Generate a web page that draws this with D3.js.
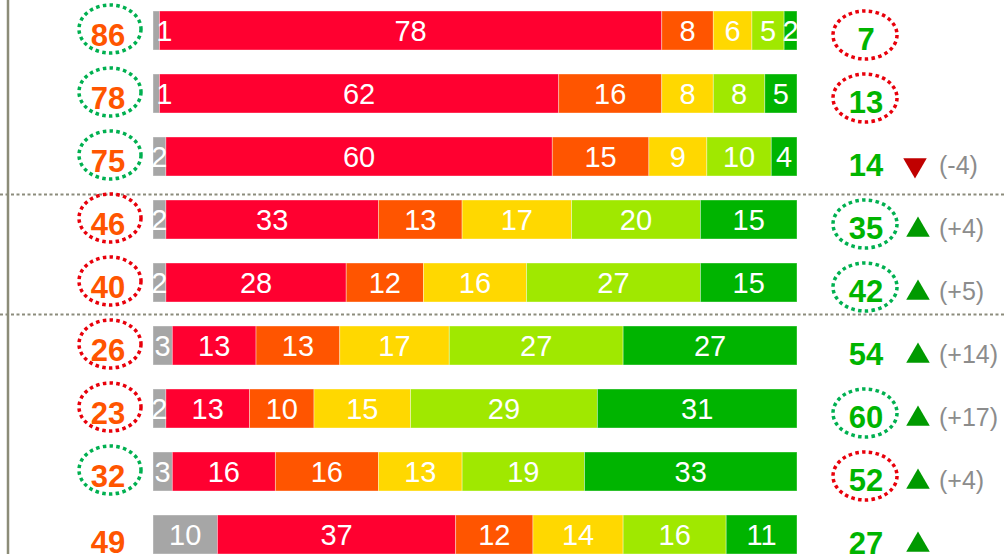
<!DOCTYPE html>
<html>
<head>
    <meta charset="utf-8">
    <script src="https://d3js.org/d3.v7.min.js"></script>
    <style>
        body { margin: 0; background: #fff; }
        svg { display: block; font-family: "Liberation Sans", Arial, sans-serif; }
    </style>
</head>
<body>
    <script>
        // rows top to bottom
        var rows = ["r1", "r2", "r3", "r4", "r5", "r6", "r7", "r8", "r9"];

        // stacked shares, one array per answer class
        var seriesKeys = ["na", "veryBad", "bad", "neutral", "good", "veryGood"];
        var na       = [1, 1, 2, 2, 2, 3, 2, 3, 10];
        var veryBad  = [78, 62, 60, 33, 28, 13, 13, 16, 37];
        var bad      = [8, 16, 15, 13, 12, 13, 10, 16, 12];
        var neutral  = [6, 8, 9, 17, 16, 17, 15, 13, 14];
        var good     = [5, 8, 10, 20, 27, 27, 29, 19, 16];
        var veryGood = [2, 5, 4, 15, 15, 27, 31, 33, 11];

        // side scores
        var leftScores  = [86, 78, 75, 46, 40, 26, 23, 32, 49];
        var leftRing    = ["green", "green", "green", "red", "red", "red", "red", "green", null];
        var rightScores = [7, 13, 14, 35, 42, 54, 60, 52, 27];
        var rightRing   = ["red", "red", null, "green", "green", null, "green", "red", null];
        var trend       = [null, null, "down", "up", "up", "up", "up", "up", "up"];
        var changeText  = [null, null, "(-4)", "(+4)", "(+5)", "(+14)", "(+17)", "(+4)", null];

        var colors = {
            na: "#A6A6A6", veryBad: "#FF0030", bad: "#FF5500",
            neutral: "#FFD800", good: "#A0E800", veryGood: "#00B400"
        };
        var ringColors = { green: "#00B050", red: "#E8000B" };

        var width = 1004, height = 554;

        var table = rows.map(function (r, i) {
            return {
                row: r, na: na[i], veryBad: veryBad[i], bad: bad[i],
                neutral: neutral[i], good: good[i], veryGood: veryGood[i]
            };
        });

        var svg = d3.select("body").append("svg")
            .attr("width", width)
            .attr("height", height);

        var x = d3.scaleLinear().domain([0, 100]).range([153, 797]);
        // step 63, bar 39
        var y = d3.scaleBand().domain(rows)
            .range([11, 11 + 63 * rows.length - 24])
            .paddingInner(24 / 63).paddingOuter(0);

        var stacked = d3.stack().keys(seriesKeys)(table);

        // separators
        svg.append("g").selectAll("line")
            .data([194.5, 314.5])
            .join("line")
            .attr("x1", 0).attr("x2", width)
            .attr("y1", d => d).attr("y2", d => d)
            .style("stroke", "#8C8C7C")
            .style("stroke-width", 2)
            .style("stroke-dasharray", "3 2.5");

        svg.append("line")
            .attr("x1", 8).attr("x2", 8)
            .attr("y1", 0).attr("y2", height)
            .style("stroke", "#8C8C78")
            .style("stroke-width", 2.5);

        // bars
        svg.append("g").selectAll("g")
            .data(stacked)
            .join("g")
            .style("fill", d => colors[d.key])
            .selectAll("rect")
            .data(d => d)
            .join("rect")
            .attr("x", d => x(d[0]))
            .attr("y", d => y(d.data.row))
            .attr("width", d => x(d[1]) - x(d[0]))
            .attr("height", y.bandwidth())
            .style("stroke", "rgba(255,255,255,0.45)")
            .style("stroke-width", 0.8);

        // segment labels on top of all bars
        svg.append("g").selectAll("g")
            .data(stacked)
            .join("g")
            .selectAll("text")
            .data(d => d)
            .join("text")
            .attr("x", d => (x(d[0]) + x(d[1])) / 2 + (d[1] - d[0] === 1 ? 8 : 0))
            .attr("y", d => y(d.data.row) + y.bandwidth() / 2 + 10.5)
            .attr("text-anchor", "middle")
            .style("fill", "#fff")
            .style("font-size", "29px")
            .text(d => d[1] - d[0]);

        // left scores
        var left = svg.append("g");
        left.selectAll("ellipse")
            .data(rows.filter((r, i) => leftRing[i]))
            .join("ellipse")
            .attr("cx", 110)
            .attr("cy", r => y(r) + 18)
            .attr("rx", 31)
            .attr("ry", 24)
            .style("fill", "none")
            .style("stroke", r => ringColors[leftRing[rows.indexOf(r)]])
            .style("stroke-width", 3.5)
            .style("stroke-dasharray", "3.5 3.3");

        left.selectAll("text")
            .data(rows)
            .join("text")
            .attr("x", 108)
            .attr("y", (r, i) => y(r) + (leftRing[i] ? 35 : 38))
            .attr("text-anchor", "middle")
            .style("fill", "#FF5500")
            .style("font-weight", "bold")
            .style("font-size", "31px")
            .text((r, i) => leftScores[i]);

        // right scores
        var right = svg.append("g");
        right.selectAll("ellipse")
            .data(rows.filter((r, i) => rightRing[i]))
            .join("ellipse")
            .attr("cx", 865)
            .attr("cy", r => y(r) + 24)
            .attr("rx", 32)
            .attr("ry", 24)
            .style("fill", "none")
            .style("stroke", r => ringColors[rightRing[rows.indexOf(r)]])
            .style("stroke-width", 3.5)
            .style("stroke-dasharray", "3.5 3.3");

        right.selectAll("text")
            .data(rows)
            .join("text")
            .attr("x", 866)
            .attr("y", r => y(r) + 39)
            .attr("text-anchor", "middle")
            .style("fill", "#00B400")
            .style("font-weight", "bold")
            .style("font-size", "31px")
            .text((r, i) => rightScores[i]);

        // trend triangles
        var tri = d3.symbol().type(d3.symbolTriangle).size(240);
        svg.append("g").selectAll("path")
            .data(rows.filter((r, i) => trend[i]))
            .join("path")
            .attr("d", tri)
            .attr("transform", r => {
                var down = trend[rows.indexOf(r)] === "down";
                return "translate(" + (down ? 915 : 918) + "," + (y(r) + (down ? 28 : 30)) + ")" +
                    (down ? " rotate(180)" : "");
            })
            .style("fill", r => trend[rows.indexOf(r)] === "down" ? "#C00000" : "#009A00");

        svg.append("g").selectAll("text")
            .data(rows.filter((r, i) => changeText[i]))
            .join("text")
            .attr("x", 939)
            .attr("y", r => y(r) + 37)
            .style("fill", "#8C8C8C")
            .style("font-size", "25px")
            .text(r => changeText[rows.indexOf(r)]);
    </script>
</body>
</html>
